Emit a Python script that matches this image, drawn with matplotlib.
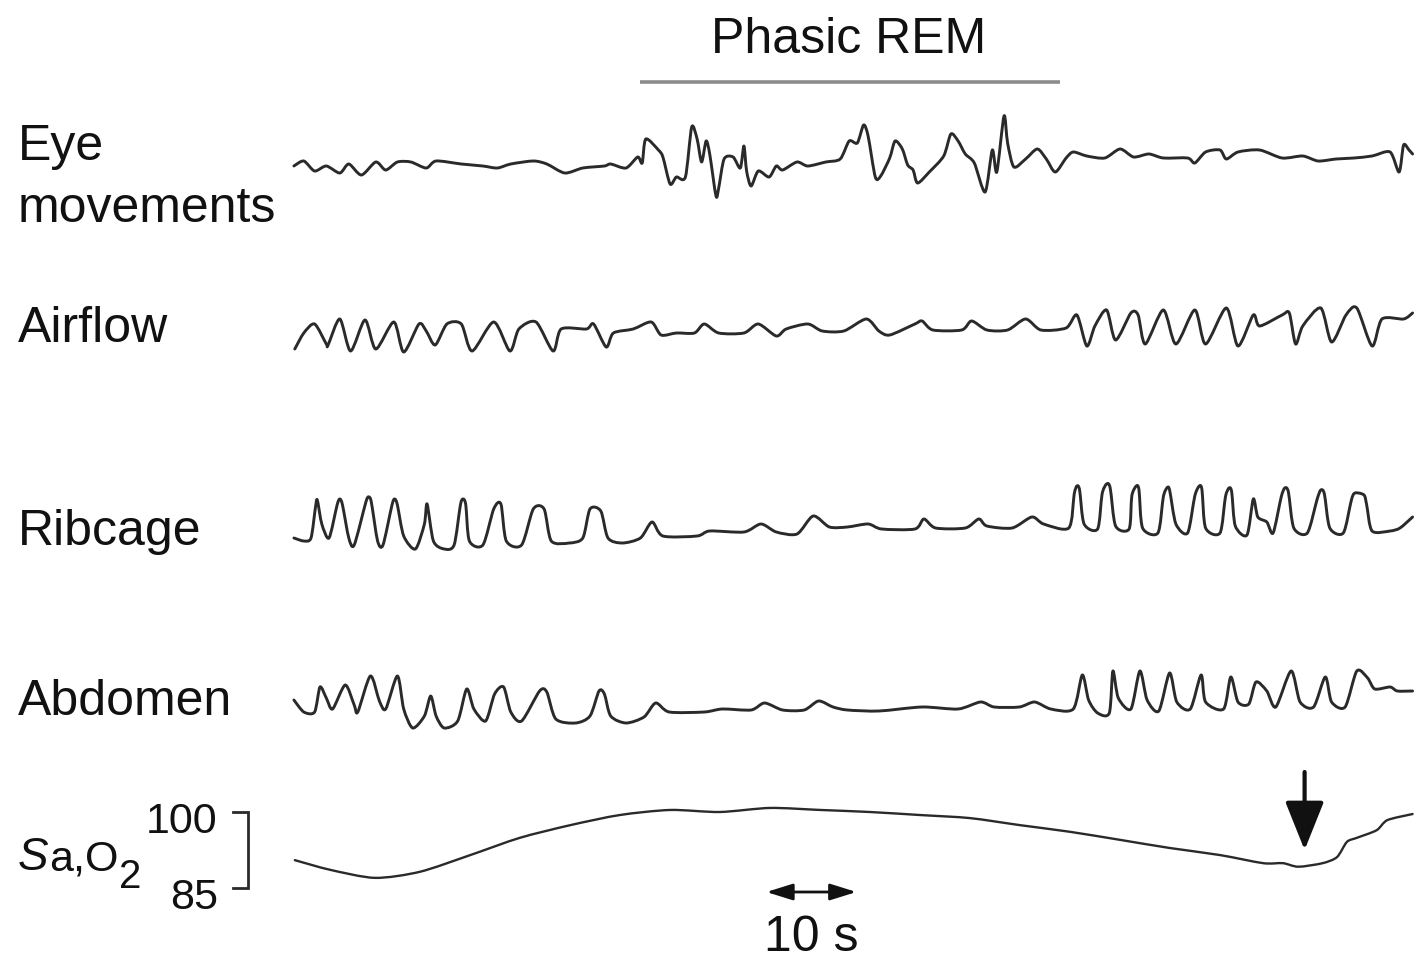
import matplotlib
matplotlib.use("Agg")
import numpy as np
import matplotlib.pyplot as plt
from matplotlib.transforms import Affine2D, blended_transform_factory
from matplotlib.patches import ArrowStyle, PathPatch
from matplotlib.path import Path

plt.rcParams['font.family'] = ['Liberation Sans', 'DejaVu Sans']

# ---------------- data (time in s, deflection in arbitrary units) ----------------
eye_t = [0.1, 1.2, 2.4, 3.7, 5.2, 6.2, 7.6, 9.2, 10.3, 11.6, 13.1, 14.8, 15.9, 18.7, 21.1, 22.7,
         24.2, 26.7, 28.2, 30.2, 32.2, 34.6, 35.3, 37.0, 38.3, 38.8, 39.2, 40.6, 41.1, 41.9, 42.6,
         43.6, 44.3, 44.9, 45.4, 45.9, 46.3, 47.0, 47.3, 47.9, 48.9, 49.7, 50.1, 50.4, 50.9, 51.7,
         52.9, 53.7, 54.4, 56.0, 57.2, 59.2, 60.8, 61.8, 62.7, 63.4, 63.9, 64.7, 65.3, 66.3, 66.9,
         67.7, 68.3, 68.9, 69.4, 70.7, 72.3, 73.1, 73.9, 74.7, 75.7, 76.9, 77.7, 78.2, 79.0, 79.4,
         80.1, 81.4, 82.7, 83.7, 84.7, 85.9, 86.7, 88.2, 90.2, 91.9, 93.4, 95.1, 96.7, 99.4, 100.2,
         101.4, 103.0, 103.7, 105.0, 107.4, 109.9, 112.2, 113.9, 115.9, 117.9, 119.9, 121.9, 122.9,
         123.4, 124.0, 124.4]
eye_v = [-0.4, 0.1, -0.9, -0.4, -1.1, -0.2, -1.3, 0.0, -0.8, 0.0, 0.0, -0.6, 0.1, -0.2, -0.4, -0.6,
         -0.2, 0.1, -0.2, -1.1, -0.6, -0.4, -0.2, -0.6, 0.5, -0.1, 2.3, 1.2, 0.5, -2.2, -1.5,
         -1.5, 3.5, 2.3, 0.0, 2.1, 0.8, -3.4, -2.6, 0.3, 0.5, -0.6, 1.6, -0.9, -2.4, -0.9,
         -1.5, -0.4, -0.8, 0.0, -0.4, 0.0, 0.3, 2.1, 1.9, 3.7, 2.6, -1.5, -1.4, 0.4, 2.1,
         1.3, -0.3, -0.8, -2.1, -1.0, 0.6, 2.8, 2.1, 0.8, -0.1, -3.0, 1.2, -1.0, 4.6, 1.9,
         -0.5, 0.3, 1.3, 0.3, -1.0, 0.4, 1.0, 0.6, 0.4, 1.3, 0.5, 0.8, 0.4, 0.4, -0.1,
         1.0, 1.2, 0.3, 1.0, 1.2, 0.4, 0.6, 0.1, 0.3, 0.4, 0.6, 1.0, -1.0,
         1.7, 1.2, 0.8]

air_t = [0.2, 1.2, 2.4, 3.7, 3.9, 5.2, 6.4, 8.0, 9.2, 11.2, 12.3, 14.0, 14.8, 15.8, 17.1, 18.7,
         19.9, 22.3, 24.1, 25.1, 27.0, 28.9, 29.8, 32.6, 33.4, 34.8, 35.6, 37.8, 39.8, 40.9, 42.6,
         44.6, 45.7, 47.3, 50.1, 51.7, 53.7, 54.8, 57.2, 58.8, 61.2, 63.7, 65.1, 66.3, 69.1, 69.9,
         71.1, 74.3, 75.4, 77.1, 79.4, 81.4, 83.1, 85.9, 87.1, 88.2, 89.1, 90.4, 91.4, 93.1, 93.9,
         94.7, 96.7, 98.1, 100.2, 101.4, 103.7, 105.0, 106.7, 107.4, 109.9, 110.7, 111.4, 112.2,
         114.2, 115.4, 117.0, 118.2, 119.9, 121.0, 123.4, 124.4]
air_v = [-2.0, -0.4, 0.5, -1.5, -1.6, 1.0, -2.2, 0.9, -2.0, 0.7, -2.3, 0.5, -0.2, -1.6, 0.5, 0.5,
         -2.2, 0.7, -2.2, 0.0, 0.7, -2.2, 0.0, 0.0, 0.5, -1.8, -0.4, 0.0, 0.7, -0.6, -0.4,
         -0.4, 0.5, -0.4, -0.4, 0.5, -0.7, 0.0, 0.5, -0.2, -0.2, 1.0, -0.2, -0.6, 0.5, 0.8,
         -0.1, -0.1, 0.8, -0.1, -0.1, 1.0, -0.1, 0.1, 1.4, -1.7, 0.3, 1.9, -1.1, 1.6, 1.4,
         -1.5, 1.9, -1.5, 1.9, -1.5, 2.1, -1.7, 1.4, 0.3, 1.4, 1.6, -1.5, 0.3,
         2.1, -1.3, 1.4, 2.1, -1.7, 1.0, 1.0, 1.6]

rib_t = [0.1, 1.2, 2.0, 2.5, 2.7, 3.2, 4.0, 4.9, 5.2, 5.5, 6.2, 6.8, 8.1, 8.4, 8.7, 9.4, 10.0,
         11.0, 11.3, 11.6, 12.3, 13.6, 14.6, 14.9, 15.6, 16.8, 17.9, 18.6, 18.9, 19.2, 19.6, 21.1,
         22.3, 23.1, 23.7, 25.4, 26.7, 27.9, 28.7, 30.7, 32.2, 33.0, 34.2, 35.0, 36.6, 38.6, 39.9,
         41.1, 44.9, 46.3, 50.1, 52.0, 53.7, 56.0, 57.8, 59.6, 61.6, 63.9, 65.4, 69.1, 70.1, 71.4,
         74.7, 76.2, 77.1, 79.9, 82.1, 83.4, 86.2, 86.8, 87.1, 87.4, 87.9, 89.4, 89.9, 90.4, 90.8,
         91.4, 92.9, 93.2, 93.7, 94.0, 94.4, 96.1, 96.7, 97.1, 97.4, 98.1, 99.4, 100.2, 100.7,
         101.0, 101.4, 103.0, 103.6, 104.0, 104.3, 104.7, 106.0, 106.7, 107.2, 108.2, 108.9, 109.8,
         110.2, 110.6, 111.2, 112.7, 113.8, 114.2, 114.6, 115.2, 116.7, 117.6, 118.0, 119.0, 119.3,
         119.9, 121.9, 123.0, 124.4]
rib_v = [-0.3, -0.6, -0.3, 2.8, 3.5, 1.1, -0.3, 3.0, 3.6, 3.0, -0.3, -1.0, 3.3, 3.8, 3.3, -0.6, -1.0,
         3.0, 3.6, 3.0, -0.1, -1.4, 1.1, 3.1, -0.6, -1.4, -1.0, 3.0, 3.6, 3.0, -0.6, -1.0,
         2.6, 3.1, -0.6, -1.0, 2.6, 2.6, -0.6, -0.8, -0.3, 2.6, 2.4, -0.3, -0.8, -0.3, 1.3,
         -0.1, -0.1, 0.4, 0.3, 1.1, 0.3, 0.1, 1.9, 0.8, 0.8, 1.1, 0.6, 0.6, 1.6, 0.7,
         0.7, 1.6, 0.9, 0.7, 1.8, 1.1, 0.7, 4.1, 4.9, 4.5, 1.1, 0.6, 4.1, 5.1, 4.7,
         0.9, 0.6, 3.9, 4.9, 4.5, 0.7, 0.2, 3.8, 4.7, 4.5, 1.1, 0.2, 3.9, 4.9,
         4.5, 0.7, 0.2, 3.8, 4.7, 4.3, 0.9, 0.0, 3.6, 1.8, 1.3, 0.2, 3.8,
         4.7, 4.3, 0.7, 0.2, 3.6, 4.5, 4.1, 0.7, 0.2, 3.5, 4.2, 4.0, 3.0,
         0.4, 0.4, 0.7, 1.8]

abd_t = [0.1, 1.2, 2.4, 3.0, 3.7, 4.4, 5.8, 6.8, 7.2, 8.6, 9.6, 10.3, 11.6, 12.3, 13.3, 14.6,
         15.3, 15.9, 16.8, 18.3, 19.3, 20.1, 21.4, 22.4, 23.4, 24.2, 25.4, 27.4, 28.2, 29.2, 31.4,
         33.0, 34.0, 34.6, 35.3, 37.0, 39.0, 40.3, 41.8, 45.7, 47.7, 50.9, 52.4, 54.4, 56.8, 58.4,
         60.0, 61.6, 65.1, 69.9, 73.9, 76.4, 77.9, 80.7, 82.4, 84.2, 86.7, 87.7, 88.4, 89.4, 90.7,
         91.1, 91.7, 93.1, 94.1, 94.9, 96.2, 97.4, 98.2, 99.7, 100.9, 101.4, 103.4, 104.2, 105.0,
         106.2, 107.0, 108.2, 109.2, 110.9, 111.9, 113.4, 114.7, 115.4, 116.9, 118.2, 119.4, 120.2,
         121.9, 122.7, 124.4]
abd_v = [1.0, -0.2, -0.2, 2.3, 1.2, 0.1, 2.5, 0.5, -0.2, 3.4, 0.9, 0.1, 3.4, 0.1, -1.8, -0.6,
         1.4, -0.6, -1.8, -1.1, 2.1, 0.1, -1.1, 1.6, 2.3, -0.2, -1.1, 1.9, 1.8, -0.9, -1.3,
         -0.6, 1.9, 1.6, -0.6, -1.3, -0.7, 0.7, -0.2, -0.2, 0.1, 0.0, 0.7, 0.0, 0.0, 0.9,
         0.3, 0.0, -0.1, 0.3, 0.1, 0.8, 0.3, 0.3, 0.8, 0.1, 0.1, 3.5, 1.0, -0.3, -0.3,
         3.9, 1.2, 0.1, 3.9, 1.0, -0.1, 3.7, 0.8, 0.1, 3.5, 0.8, 0.1, 3.3, 0.8,
         0.6, 2.8, 1.9, 0.3, 3.9, 0.8, 0.3, 3.3, 0.8, 0.3, 3.9, 3.2, 2.1,
         2.3, 1.9, 1.9]

sao2_t = [0.2, 4.1, 9.1, 14.1, 19.7, 25.2, 30.8, 36.3, 41.9, 47.4, 53.0, 58.6, 64.1, 69.7, 75.2,
          80.8, 86.3, 91.9, 97.4, 103.0, 107.8, 110.0, 111.7, 114.4, 116.0, 117.1, 118.2, 120.4,
          121.6, 124.4]
sao2_v = [90.5, 88.6, 87.0, 88.2, 91.5, 94.9, 97.4, 99.4, 100.4, 100.0, 100.8, 100.4, 100.0, 99.4,
          98.8, 97.4, 96.1, 94.5, 92.9, 91.5, 89.9, 89.9, 89.2, 89.9, 91.1, 94.1, 94.9, 96.4,
          98.4, 99.6]

channel_labels = ["Eye\nmovements", "Airflow", "Ribcage", "Abdomen"]
sao2_scale = [100, 85]                 # % marks of the bracket
phasic_rem = (38.6, 85.2)              # s
scale_bar = (52.6, 10)                 # start s, length s
event_arrow = (112.4, 107.9, 92.5)     # time s, tail %, tip %

# ---------------- layout ----------------
W, H = 1414, 961
T0_PX, PX_PER_S = 293, 9.0
INK = '#2a2a2a'
TXT = '#111111'
FS = 36

fig = plt.figure(figsize=(W / 100, H / 100), dpi=100)
ax = fig.add_axes([0, 0, 1, 1])
ax.set_xlim(-T0_PX / PX_PER_S, (W - T0_PX) / PX_PER_S)
ax.set_ylim(H, 0)
ax.axis('off')

lay = fig.add_axes([0, 0, 1, 1], facecolor='none')
lay.set_xlim(0, W)
lay.set_ylim(H, 0)
lay.axis('off')


def row(base, gain):
    return Affine2D().scale(1, -gain).translate(0, base) + ax.transData


def smooth_trace(t, v, transform, lw, k=0.8):
    """Draw the recorded points as a pen-like curve (Catmull-Rom through every point)."""
    p = np.column_stack([t, v]).astype(float)
    ext = np.vstack([p[0], p, p[-1]])
    verts = [p[0]]
    codes = [Path.MOVETO]
    for i in range(1, len(ext) - 2):
        p0, p1, p2, p3 = ext[i - 1], ext[i], ext[i + 1], ext[i + 2]
        c1 = p1 + (p2 - p0) * k / 6.0
        c2 = p2 - (p3 - p1) * k / 6.0
        verts += [c1, c2, p2]
        codes += [Path.CURVE4] * 3
    patch = PathPatch(Path(np.array(verts), codes), fill=False, edgecolor=INK, lw=lw,
                      joinstyle='round', capstyle='round', transform=transform)
    ax.add_patch(patch)


rows = [(eye_t, eye_v, 162, 10), (air_t, air_v, 329, 10),
        (rib_t, rib_v, 535, 10), (abd_t, abd_v, 710, 10)]
for t, v, base, gain in rows:
    smooth_trace(t, v, row(base, gain), lw=2.1)

sao2_tr = Affine2D().translate(0, -100).scale(1, -76 / 15).translate(0, 812) + ax.transData
smooth_trace(sao2_t, sao2_v, sao2_tr, lw=1.7)

# channel labels
label_base = [(160, 222), (342,), (545,), (715,)]
for lab, ys in zip(channel_labels, label_base):
    for line, y in zip(lab.split("\n"), ys):
        lay.text(18, y, line, fontsize=FS, ha='left', va='baseline', color=TXT)

# SaO2 label
t_S = lay.text(18, 870, "S", fontsize=33, style='italic', ha='left', va='baseline', color=TXT)
t_a = lay.annotate("a,O", xy=(1.0, 870), xycoords=(t_S, 'data'), xytext=(0.3, 0),
                   textcoords='offset points', fontsize=31, ha='left', va='baseline', color=TXT)
lay.annotate("2", xy=(1.0, 888), xycoords=(t_a, 'data'), xytext=(0.3, 0),
             textcoords='offset points', fontsize=29, ha='left', va='baseline', color=TXT)

# bracket
br_tr = blended_transform_factory(lay.transData, sao2_tr)
lay.plot([233, 248, 248, 233], [sao2_scale[0], sao2_scale[0], sao2_scale[1], sao2_scale[1]],
         color=INK, lw=2.0, transform=br_tr, solid_joinstyle='miter')
lay.text(217, 833, str(sao2_scale[0]), fontsize=31, ha='right', va='baseline', color=TXT)
lay.text(218, 909, str(sao2_scale[1]), fontsize=31, ha='right', va='baseline', color=TXT)

# Phasic REM bar
ax.plot(list(phasic_rem), [82, 82], color='#8c8c8c', lw=2.6, solid_capstyle='butt')
ax.text(sum(phasic_rem) / 2 - 0.2, 53, "Phasic REM", fontsize=FS, ha='center', va='baseline',
        color=TXT)

# 10 s scale bar
ax.annotate('', xy=(scale_bar[0] + scale_bar[1], 892), xytext=(scale_bar[0], 892),
            arrowprops=dict(arrowstyle=ArrowStyle('<|-|>', head_length=1.6, head_width=0.5),
                            mutation_scale=10, lw=2.0, color=TXT, shrinkA=0, shrinkB=0))
ax.text(scale_bar[0] + scale_bar[1] / 2, 951, "%d s" % scale_bar[1], fontsize=FS, ha='center',
        va='baseline', color=TXT)

# event arrow on SaO2
ax.annotate('', xy=(event_arrow[0], event_arrow[2]), xycoords=sao2_tr,
            xytext=(event_arrow[0], event_arrow[1]), textcoords=sao2_tr,
            arrowprops=dict(arrowstyle=ArrowStyle('-|>', head_length=3.0, head_width=1.2),
                            mutation_scale=10, lw=3.0, color=TXT, shrinkA=0, shrinkB=0))

fig.savefig("out.png", dpi=100, facecolor='white')
